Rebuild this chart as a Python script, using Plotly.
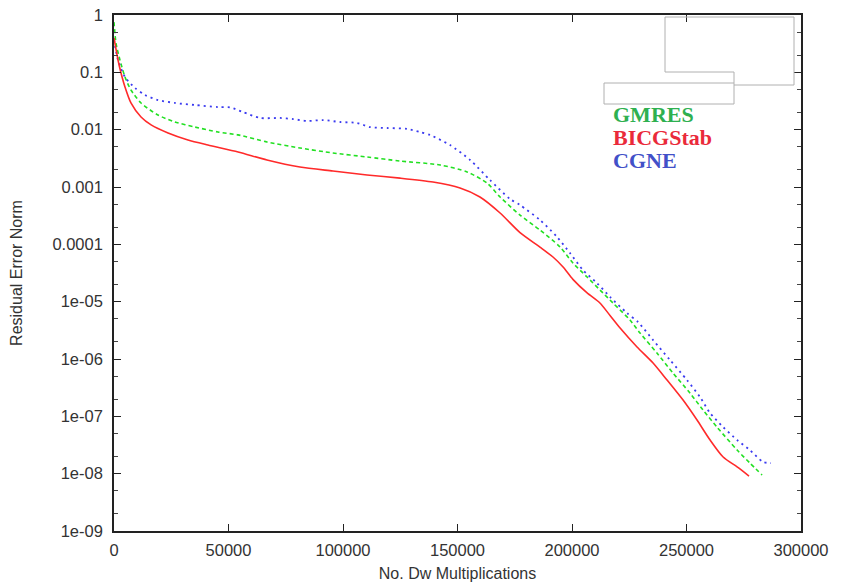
import plotly.graph_objects as go

# ---- data ----
red_x = [0, 1750, 3060, 4800, 7400, 11800, 16200, 23600, 32300, 41000, 54200, 66800, 81200,
         95600, 110500, 124900, 139300, 151100, 159800, 168600, 177300, 186000, 191700, 196100,
         200400, 206600, 212200, 216600, 221000, 228400, 235400, 241500, 248500, 254600, 260300,
         266000, 272100, 277300]
red_y = [0.397, 0.164, 0.0973, 0.0554, 0.0292, 0.0166, 0.0121, 0.00875, 0.00660, 0.00540,
         0.00408, 0.00296, 0.00223, 0.00190, 0.00162, 0.00143, 0.00122, 0.00096, 0.00067,
         0.000352, 0.000160, 8.97e-5, 6.01e-5, 4.02e-5, 2.45e-5, 1.42e-5, 9.47e-6, 5.75e-6,
         3.47e-6, 1.62e-6, 8.51e-7, 4.30e-7, 1.92e-7, 8.62e-8, 3.86e-8, 1.95e-8, 1.31e-8, 9.1e-9]

green_x = [0, 870, 2600, 4800, 7400, 11800, 19200, 26600, 35400, 45400, 54200, 66800, 81200,
           95600, 110500, 124900, 142400, 154200, 162900, 168600, 177300, 186000, 194800,
           200400, 206600, 212200, 217900, 225300, 229700, 237100, 244100, 251500, 257200,
           263300, 272100, 277700, 283000]
green_y = [0.75, 0.325, 0.164, 0.0829, 0.0492, 0.0292, 0.0180, 0.0136, 0.0111, 0.0091, 0.0081,
           0.00610, 0.00479, 0.00392, 0.00334, 0.00284, 0.00242, 0.00183, 0.00117, 0.000669,
           0.000324, 0.000178, 8.97e-5, 4.72e-5, 2.69e-5, 1.60e-5, 9.47e-6, 4.79e-6, 2.84e-6,
           1.27e-6, 5.69e-7, 2.55e-7, 1.29e-7, 6.50e-8, 2.58e-8, 1.53e-8, 9.47e-9]

blue_x = [0, 1750, 4800, 9200, 13500, 19200, 26600, 35400, 45400, 50700, 56300, 63800, 72500,
          78200, 84300, 91300, 98700, 106100, 111800, 119200, 128000, 133600, 138000, 146700,
          155500, 164200, 172900, 177300, 186000, 193500, 199100, 204800, 210900, 216600,
          224000, 228800, 235400, 242800, 250200, 255900, 260300, 266000, 272100, 277700,
          283400, 286900]
blue_y = [0.366, 0.164, 0.0829, 0.0533, 0.0403, 0.0329, 0.0292, 0.0269, 0.0248, 0.0245, 0.0203,
          0.0160, 0.0160, 0.0153, 0.0142, 0.0147, 0.0136, 0.0131, 0.0111, 0.0107, 0.0103,
          0.00910, 0.00807, 0.00540, 0.00296, 0.00132, 0.00062, 0.000485, 0.000266, 0.000134,
          7.06e-5, 3.56e-5, 2.11e-5, 1.21e-5, 6.34e-6, 4.42e-6, 2.14e-6, 9.60e-7, 4.30e-7,
          2.17e-7, 1.14e-7, 6.50e-8, 3.86e-8, 2.58e-8, 1.60e-8, 1.53e-8]

x_ticks = [0, 50000, 100000, 150000, 200000, 250000, 300000]
y_ticks = [1, 0.1, 0.01, 0.001, 0.0001, 1e-5, 1e-6, 1e-7, 1e-8, 1e-9]
y_ticktext = ["1", "0.1", "0.01", "0.001", "0.0001", "1e-05", "1e-06", "1e-07", "1e-08", "1e-09"]
legend_names = ["GMRES", "BICGStab", "CGNE"]

fig = go.Figure()
fig.add_trace(go.Scatter(x=green_x, y=green_y, mode="lines", name="GMRES",
                         line=dict(color="#22e022", width=1.6, dash="4px,3px",
                                   shape="spline", smoothing=0.7)))
fig.add_trace(go.Scatter(x=blue_x, y=blue_y, mode="lines", name="CGNE",
                         line=dict(color="#3a3af0", width=1.8, dash="2px,4px",
                                   shape="spline", smoothing=0.7)))
fig.add_trace(go.Scatter(x=red_x, y=red_y, mode="lines", name="BICGStab",
                         line=dict(color="#ff2a2a", width=1.6, shape="spline", smoothing=0.7)))

W, H = 844, 582
L, R, T, B = 114, 801, 15, 531


def px(x):
    return (x - L) / (R - L)


def py(y):
    return (B - y) / (B - T)


segs = [
    (665, 72, 665, 17), (665, 17, 794, 17), (794, 17, 794, 85), (794, 85, 734, 85),
    (665, 72, 734, 72), (734, 72, 734, 104),
    (734, 83, 604, 83), (604, 83, 604, 104), (604, 104, 734, 104),
]
shapes = [dict(type="line", xref="paper", yref="paper", x0=px(a), y0=py(b), x1=px(c), y1=py(d),
               line=dict(color="#b0b0b0", width=1)) for a, b, c, d in segs]

leg_colors = ["#2eb050", "#ea2a3a", "#4250c8"]
leg_y = [114, 137, 160]
annotations = [dict(text="<b>%s</b>" % n, xref="paper", yref="paper", x=px(611), y=py(yy),
                    xanchor="left", yanchor="middle", showarrow=False,
                    font=dict(family="Liberation Serif", size=22, color=c))
               for n, c, yy in zip(legend_names, leg_colors, leg_y)]

fig.update_layout(
    width=W, height=H,
    margin=dict(l=L, r=W - R, t=T, b=H - B, autoexpand=False),
    paper_bgcolor="white", plot_bgcolor="white",
    showlegend=False,
    shapes=shapes,
    annotations=annotations,
    font=dict(family="Liberation Sans", color="#333"),
)
fig.update_xaxes(
    range=[0, 300000], tickvals=x_ticks, ticktext=[str(v) for v in x_ticks],
    ticks="inside", ticklen=7, tickwidth=1.2, tickcolor="#222",
    showline=True, linecolor="#222", linewidth=1.6, mirror="ticks",
    showgrid=False, zeroline=False, automargin=False,
    tickfont=dict(size=16.5, color="#333"), ticklabelstandoff=3,
    title=dict(text="No. Dw Multiplications", font=dict(size=16, color="#333"), standoff=10),
)
fig.update_yaxes(
    type="log", range=[-9, 0], tickvals=y_ticks, ticktext=y_ticktext,
    ticks="inside", ticklen=7, tickwidth=1.2, tickcolor="#222",
    minor=dict(ticks="inside", ticklen=4, tickcolor="#444", dtick="D2", showgrid=False),
    showline=True, linecolor="#222", linewidth=1.6, mirror="ticks",
    showgrid=False, zeroline=False, automargin=False,
    tickfont=dict(size=16.5, color="#333"), ticklabelstandoff=6,
    title=dict(text="Residual Error Norm", font=dict(size=16, color="#333"), standoff=26),
)

fig.write_html("out.html")
